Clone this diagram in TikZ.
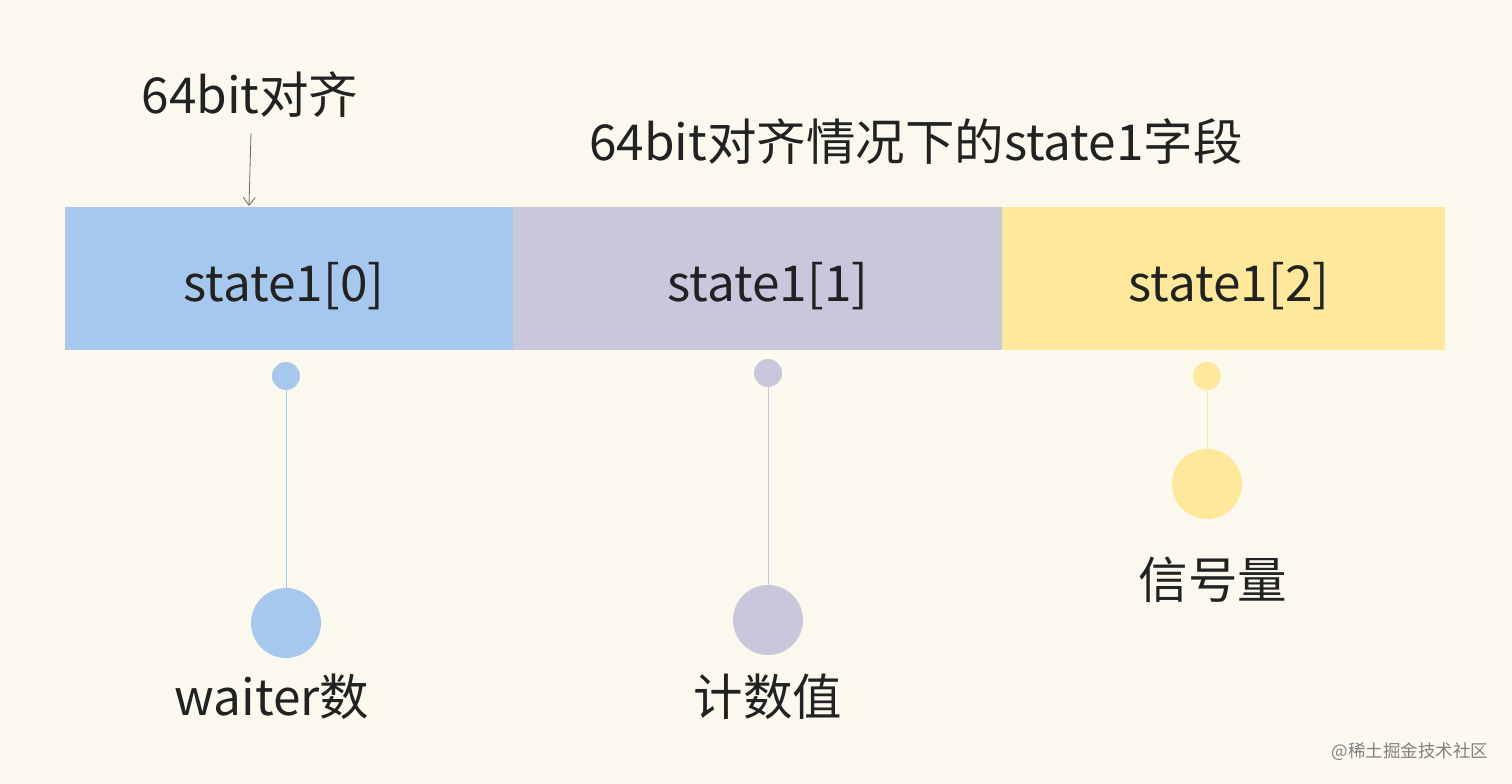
\documentclass[tikz,border=0pt]{standalone}
\usepackage{fontspec}
\setmainfont{Noto Sans CJK SC}
\usetikzlibrary{arrows.meta}
\definecolor{bg}{HTML}{FBF9EE}
\definecolor{cblue}{HTML}{A7C8EE}
\definecolor{cpurple}{HTML}{C8C7DC}
\definecolor{cyellow}{HTML}{FEE89B}
\definecolor{ink}{HTML}{222222}
\begin{document}
\begin{tikzpicture}[x=1pt,y=-1pt,
  cell/.style={draw=none,minimum height=143pt,inner sep=0pt},
  lbl/.style={font=\fontsize{49.5}{49.5}\selectfont,text=ink,inner sep=0pt},
  dot/.style={circle,draw=none,inner sep=0pt,minimum size=28pt},
  bigdot/.style={circle,draw=none,inner sep=0pt,minimum size=70pt},
  stem/.style={line width=1pt}]
\fill[bg] (0,0) rectangle (1512,784);
\useasboundingbox (0,0) rectangle (1512,784);
\node[cell,fill=cblue,minimum width=448pt] (c0) at (289,278.5) {};
\node[cell,fill=cpurple,minimum width=489pt] (c1) at (757.5,278.5) {};
\node[cell,fill=cyellow,minimum width=443pt] (c2) at (1223.5,278.5) {};
\node[lbl,anchor=base] (c0t) at (284,301) {state1[0]};
\node[lbl,anchor=base] (c1t) at (768,301) {state1[1]};
\node[lbl,anchor=base] (c2t) at (1229,301) {state1[2]};
\node[lbl] (t1) at (250,95) {64bit对齐};
\node[lbl] (t2) at (916,142) {64bit对齐情况下的state1字段};
\draw[gray!80!black,line width=0.8pt,-{Straight Barb[length=8pt,width=12pt]}] (251,133) coordinate (a0) -- (249,206) coordinate (a1);
\node[dot,fill=cblue] (s0) at (286,376) {};
\node[bigdot,fill=cblue] (b0) at (286,623) {};
\draw[stem,cblue] (s0) -- (b0);
\node[dot,fill=cpurple] (s1) at (768,373) {};
\node[bigdot,fill=cpurple] (b1) at (768,620) {};
\draw[stem,cpurple] (s1) -- (b1);
\node[dot,fill=cyellow] (s2) at (1207,376) {};
\node[bigdot,fill=cyellow] (b2) at (1207,484) {};
\draw[stem,cyellow] (s2) -- (b2);
\node[lbl] (l0) at (272,697) {waiter数};
\node[lbl] (l1) at (768,697) {计数值};
\node[lbl] (l2) at (1213,580) {信号量};
\node[font=\fontsize{17.5}{17.5}\selectfont,text=black!50,inner sep=0pt] (wm) at (1410,752) {@稀土掘金技术社区};
\end{tikzpicture}
\end{document}
